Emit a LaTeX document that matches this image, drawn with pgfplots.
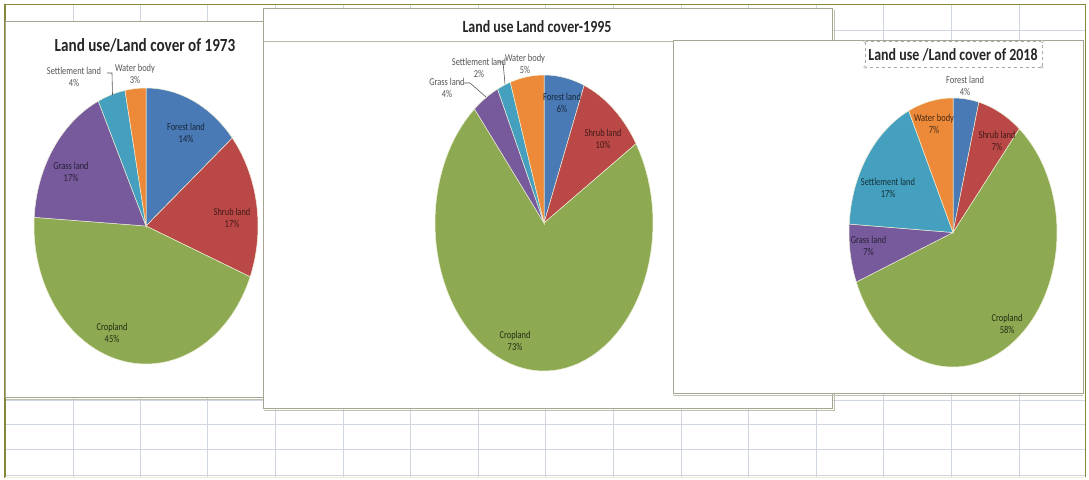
\documentclass[border=0pt]{standalone}
\usepackage{pgfplots}
\pgfplotsset{compat=1.18}
\usepackage{graphicx}
\usepackage{fontspec}
\setmainfont{Carlito}

\definecolor{cForest}{RGB}{74,122,182}
\definecolor{cShrub}{RGB}{186,72,70}
\definecolor{cCrop}{RGB}{141,170,82}
\definecolor{cGrass}{RGB}{118,90,155}
\definecolor{cSettle}{RGB}{68,160,190}
\definecolor{cWater}{RGB}{236,138,58}
\definecolor{gridc}{RGB}{208,214,224}
\definecolor{olivec}{RGB}{135,135,60}
\definecolor{framec}{RGB}{165,165,145}
\definecolor{sepc}{RGB}{238,238,215}
\definecolor{outc}{RGB}{85,85,85}

% one pie slice: start (cumulative %), value (%), colour; clockwise from 12 o'clock
\newcommand\sector[3]{%
  \addplot[draw=sepc, line width=0.5pt, fill=#3, samples=72, variable=\t,
    domain={90-3.6*(#1+#2)}:{90-3.6*(#1)}]
    ({cos(\t)},{sin(\t)}) -- (axis cs:0,0) -- cycle;}

\newcommand\lbl[4]{\node[align=center, text=#4, font=\fontsize{10.5}{12}\selectfont, inner sep=0pt] at (#1) {\scalebox{0.8}[1]{#2}\\\scalebox{0.8}[1]{#3}};}
\newcommand\ttl[3]{\node[font=\bfseries\fontsize{#3}{#3}\selectfont, text=black!85, inner sep=0pt] at (#1) {\scalebox{0.82}[1]{#2}};}

\pgfplotsset{pie/.style={scale only axis, hide axis, xmin=-1, xmax=1, ymin=-1, ymax=1, anchor=center, clip=false}}

\begin{document}
\begin{tikzpicture}[x={(1pt,0pt)}, y={(0pt,-1pt)}]
% background sheet
\fill[white] (0,0) rectangle (1089,479);
\foreach \gx in {73,140.2,207.8,275.4,343,410.6,478.2,545.8,613.4,681,748.6,816.2,883.8,951.4,1019}
  \draw[gridc, line width=0.8pt] (\gx,4) -- (\gx,477);
\foreach \gy in {400,424,449,475}
  \draw[gridc, line width=0.8pt] (5,\gy) -- (1085,\gy);
\draw[gridc, line width=0.8pt] (5,21) -- (263,21);
\draw[gridc, line width=0.8pt] (832,30) -- (1085,30);
\draw[olivec, line width=1.2pt] (5,477.5) -- (5,4.5) -- (1085.5,4.5) -- (1085.5,477.5);
\draw[sepc, line width=1pt] (5,477.8) -- (1085.5,477.8);

% ---------------- chart 1: 1973
\filldraw[fill=white, draw=framec, line width=0.8pt] (5.5,21) rectangle (270,397);
\draw[framec!70, line width=0.6pt] (5.5,399.5) -- (270,399.5);
\ttl{145,45}{Land use/Land cover of 1973}{18.5}
\begin{axis}[pie, at={(146pt,-226pt)}, width=224pt, height=276pt]
\sector{0}{14}{cForest}
\sector{14}{17}{cShrub}
\sector{31}{45}{cCrop}
\sector{76}{17}{cGrass}
\sector{93}{4}{cSettle}
\sector{97}{3}{cWater}
\end{axis}
\lbl{186,133}{Forest land}{14\%}{cForest!30!black}
\lbl{232,217.5}{Shrub land}{17\%}{cShrub!35!black}
\lbl{71,172}{Grass land}{17\%}{cGrass!35!black}
\lbl{112,332.5}{Cropland}{45\%}{cCrop!25!black}
\lbl{74,77}{Settlement land}{4\%}{outc}
\lbl{135,74}{Water body}{3\%}{outc}
\draw[outc, line width=0.6pt] (107,73) -- (112,73) -- (112.5,95);

% ---------------- chart 2: 1995
\filldraw[fill=white, draw=framec, line width=0.8pt] (263.5,8) rectangle (832,408);
\draw[framec!70, line width=0.6pt] (263.5,410.5) -- (834.5,410.5) -- (834.5,10);
\draw[framec!80, line width=0.6pt] (263.5,41) -- (673,41);
\ttl{537,27}{Land use Land cover-1995}{17}
\begin{axis}[pie, at={(544pt,-223pt)}, width=218pt, height=296pt]
\sector{0}{6}{cForest}
\sector{6}{10}{cShrub}
\sector{16}{73}{cCrop}
\sector{89}{4}{cGrass}
\sector{93}{2}{cSettle}
\sector{95}{5}{cWater}
\end{axis}
\lbl{562,103}{Forest land}{6\%}{cForest!30!black}
\lbl{603,139}{Shrub land}{10\%}{cShrub!35!black}
\lbl{515,340.5}{Cropland}{73\%}{cCrop!25!black}
\lbl{447,88}{Grass land}{4\%}{outc}
\lbl{479,67.5}{Settlement land}{2\%}{outc}
\lbl{525,63.5}{Water body}{5\%}{outc}
\draw[outc, line width=0.6pt] (464,83) -- (470,83) -- (486,97);
\draw[outc, line width=0.6pt] (498,62) -- (503,62) -- (505,84);

% ---------------- chart 3: 2018
\filldraw[fill=white, draw=framec, line width=0.8pt] (673,40) rectangle (1083,393);
\draw[framec!70, line width=0.6pt] (673,395.5) -- (1083,395.5);
\draw[gray!70, dashed, line width=0.6pt] (865,41.5) rectangle (1042,67);
\foreach \cx/\cy in {865/41.5,1042/41.5,865/67,1042/67}
  \draw[gray!70, fill=white, line width=0.4pt] (\cx,\cy) circle (1.3pt);
\ttl{953,55}{Land use /Land cover of 2018}{17}
\begin{axis}[pie, at={(953pt,-232.5pt)}, width=208pt, height=269pt]
\sector{0}{4}{cForest}
\sector{4}{7}{cShrub}
\sector{11}{58}{cCrop}
\sector{69}{7}{cGrass}
\sector{76}{17}{cSettle}
\sector{93}{7}{cWater}
\end{axis}
\lbl{965,85.5}{Forest land}{4\%}{outc}
\lbl{997,140.5}{Shrub land}{7\%}{cShrub!35!black}
\lbl{934,124}{Water body}{7\%}{cWater!30!black}
\lbl{888,188}{Settlement land}{17\%}{cSettle!30!black}
\lbl{868.5,245.5}{Grass land}{7\%}{cGrass!35!black}
\lbl{1007,324}{Cropland}{58\%}{cCrop!25!black}
\end{tikzpicture}
\end{document}
